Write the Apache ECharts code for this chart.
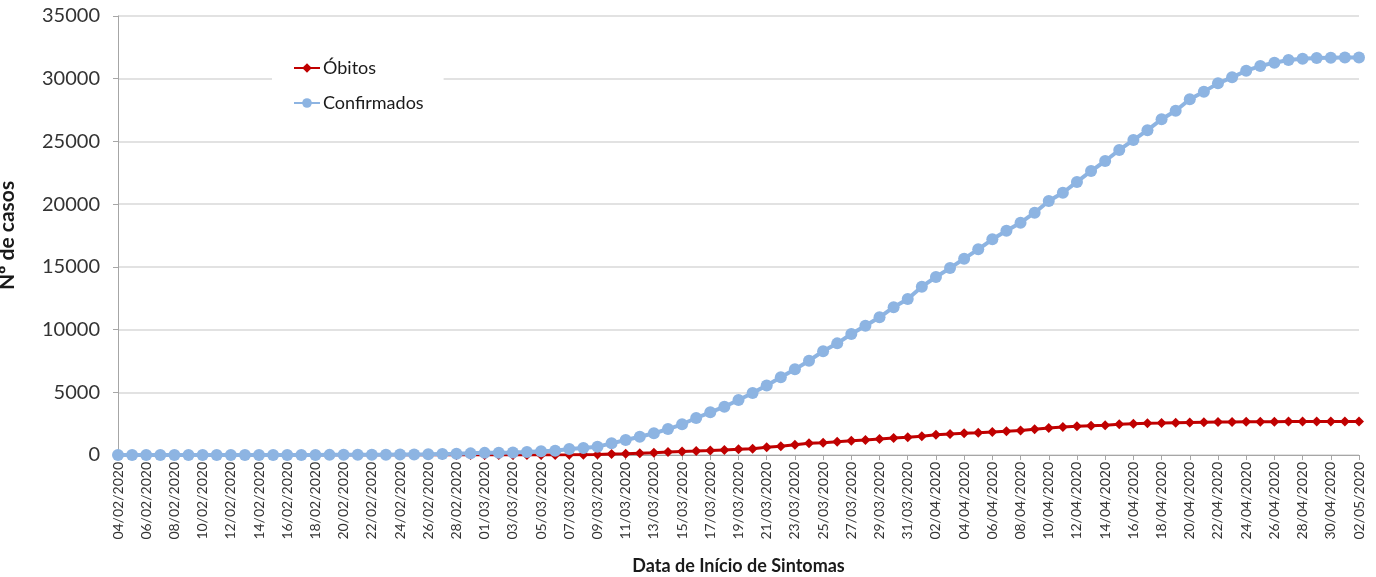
<!DOCTYPE html>
<html>
<head>
<meta charset="utf-8">
<script src="https://cdn.jsdelivr.net/npm/echarts@6/dist/echarts.min.js"></script>
<style>
html,body{margin:0;padding:0;background:#fff;}
#chart{width:1376px;height:577px;}
</style>
</head>
<body>
<div id="chart"></div>
<script>
const categories = [
"04/02/2020","05/02/2020","06/02/2020","07/02/2020","08/02/2020","09/02/2020","10/02/2020","11/02/2020","12/02/2020","13/02/2020",
"14/02/2020","15/02/2020","16/02/2020","17/02/2020","18/02/2020","19/02/2020","20/02/2020","21/02/2020","22/02/2020","23/02/2020",
"24/02/2020","25/02/2020","26/02/2020","27/02/2020","28/02/2020","29/02/2020",
"01/03/2020","02/03/2020","03/03/2020","04/03/2020","05/03/2020","06/03/2020","07/03/2020","08/03/2020","09/03/2020","10/03/2020",
"11/03/2020","12/03/2020","13/03/2020","14/03/2020","15/03/2020","16/03/2020","17/03/2020","18/03/2020","19/03/2020","20/03/2020",
"21/03/2020","22/03/2020","23/03/2020","24/03/2020","25/03/2020","26/03/2020","27/03/2020","28/03/2020","29/03/2020","30/03/2020",
"31/03/2020",
"01/04/2020","02/04/2020","03/04/2020","04/04/2020","05/04/2020","06/04/2020","07/04/2020","08/04/2020","09/04/2020","10/04/2020",
"11/04/2020","12/04/2020","13/04/2020","14/04/2020","15/04/2020","16/04/2020","17/04/2020","18/04/2020","19/04/2020","20/04/2020",
"21/04/2020","22/04/2020","23/04/2020","24/04/2020","25/04/2020","26/04/2020","27/04/2020","28/04/2020","29/04/2020","30/04/2020",
"01/05/2020","02/05/2020"
];

const obitos = [
0,0,0,0,0,0,0,0,0,0,
0,0,0,0,0,0,0,0,0,0,
0,0,0,0,0,0,
0,0,2,3,5,8,10,15,40,70,
100,140,180,230,275,310,350,400,450,505,
610,690,820,930,980,1060,1140,1200,1275,1355,
1410,
1490,1620,1670,1730,1780,1835,1900,1955,2050,2150,
2230,2290,2340,2380,2460,2500,2530,2550,2575,2600,
2615,2630,2640,2650,2655,2660,2665,2668,2670,2672,
2674,2675
];

const confirmados = [
0,0,0,0,1,1,1,2,2,3,
3,4,5,6,8,10,12,15,20,25,
35,45,60,80,100,130,
170,180,200,240,290,345,480,560,665,930,
1200,1460,1730,2070,2450,2950,3400,3850,4380,4950,
5550,6190,6830,7520,8270,8900,9650,10310,10980,11780,
12440,
13420,14190,14900,15650,16400,17200,17880,18520,19320,20250,
20910,21770,22640,23440,24320,25110,25900,26770,27450,28360,
28970,29630,30110,30640,31010,31280,31490,31600,31650,31680,
31700,31700
];

const yTicks = { min: 0, max: 35000, interval: 5000 };
const FONT = 'Lato, "Open Sans", sans-serif';

const chart = echarts.init(document.getElementById('chart'));
chart.setOption({
  animation: false,
  backgroundColor: '#fff',
  grid: { left: 118, right: 17, top: 16, bottom: 122, containLabel: false, outerBoundsMode: 'none' },
  legend: {
    orient: 'vertical',
    left: 272,
    top: 51,
    padding: [8, 20, 8, 21],
    backgroundColor: '#fff',
    itemWidth: 26,
    itemHeight: 12,
    itemGap: 17,
    textStyle: { fontFamily: FONT, fontSize: 18, color: '#1a1a1a', padding: [0, 0, 0, -2] },
    data: ['Óbitos', 'Confirmados']
  },
  xAxis: {
    type: 'category',
    data: categories,
    boundaryGap: false,
    name: 'Data de Início de Sintomas',
    nameLocation: 'middle',
    nameGap: 102,
    nameTextStyle: { fontFamily: FONT, fontSize: 18, fontWeight: 'bold', color: '#1a1a1a' },
    axisLine: { show: true, lineStyle: { color: '#a6a6a6', width: 1 } },
    axisTick: { show: true, interval: 1, length: 5, lineStyle: { color: '#a6a6a6' } },
    axisLabel: { interval: 1, rotate: 90, fontFamily: FONT, fontSize: 14, color: '#333', margin: 7 },
    splitLine: { show: false }
  },
  yAxis: {
    type: 'value',
    min: yTicks.min,
    max: yTicks.max,
    interval: yTicks.interval,
    name: 'Nº de casos',
    nameLocation: 'middle',
    nameGap: 100,
    nameTextStyle: { fontFamily: FONT, fontSize: 21, fontWeight: 'bold', color: '#1a1a1a' },
    axisLine: { show: true, lineStyle: { color: '#a6a6a6', width: 1 } },
    axisTick: { show: true, length: 5, lineStyle: { color: '#a6a6a6' } },
    axisLabel: { fontFamily: FONT, fontSize: 20, color: '#333', margin: 18, formatter: function (v) { return String(v); } },
    splitLine: { show: true, lineStyle: { color: '#d9d9d9', width: 1.5 } }
  },
  series: [
    {
      name: 'Óbitos',
      type: 'line',
      data: obitos,
      symbol: 'diamond',
      symbolSize: 10,
      showAllSymbol: true,
      itemStyle: { color: '#c00000' },
      lineStyle: { color: '#c00000', width: 3 }
    },
    {
      name: 'Confirmados',
      type: 'line',
      data: confirmados,
      symbol: 'circle',
      symbolSize: 12,
      showAllSymbol: true,
      itemStyle: { color: '#8db4e2' },
      lineStyle: { color: '#8db4e2', width: 4 }
    }
  ]
});
</script>
</body>
</html>
